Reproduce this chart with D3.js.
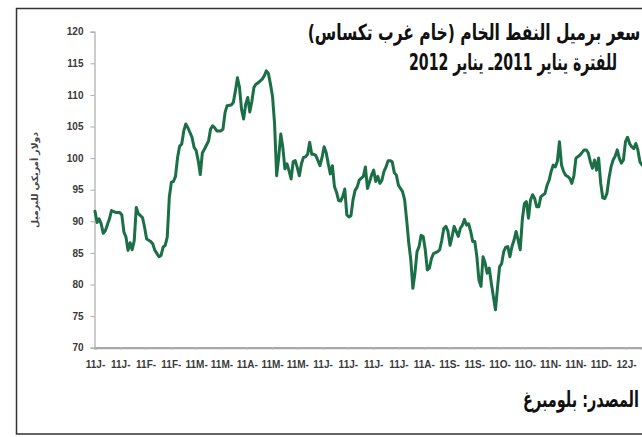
<!DOCTYPE html>
<html>
<head>
<meta charset="utf-8">
<script src="https://cdn.jsdelivr.net/npm/d3@7"></script>
<style>
body { margin: 0; background: #fff; }
svg { display: block; }
</style>
</head>
<body>
<div id="corpo"></div>
<script>
// trading session number (from 3 Jan 2011) and WTI close
var days = [0,1,2,3,4,5,7,8,10,12,13,14,15,16,17,18,19,20,21,22,23,24,25,27,28,29,31,32,33,34,35,36,37,38,39,40,
  41,42,43,44,45,47,48,49,50,51,52,53,55,56,57,58,59,61,62,63,64,66,67,68,69,70,71,72,73,74,75,76,77,78,79,81,82,83,84,85,
  86,87,88,89,90,91,92,93,94,95,96,97,98,99,100,101,102,103,104,105,106,107,108,109,110,111,112,113,114,115,116,117,118,119,
  120,121,122,123,124,125,126,127,128,130,131,132,134,135,136,137,138,139,140,141,142,143,144,145,146,147,149,150,151,152,
  153,154,155,156,157,158,159,160,161,162,163,164,166,167,168,169,170,171,172,173,174,175,176,177,178,179,180,181,182,183,
  184,185,186,187,188,189,190,191,192,193,194,195,196,197,198,199,200,201,202,203,204,205,206,207,208,209,210,211,212,213,
  214,215,216,218,219,220,221,222,223,224,225,226,227,228,229,230,231,232,233,235,236,237,238,239,240,241,242,243,244,245,
  246,247,248,249,250,251,252,253,254,255,256,257,258,259,260,261,262,263,264,265];
var prices = [91.6,89.8,90.4,89.6,88.1,88.5,90.4,91.7,91.4,91.4,91.0,88.3,87.5,85.4,86.6,85.5,86.9,92.2,91.2,90.9,90.6,89.1,87.2,86.8,86.4,85.4,84.4,84.6,85.9,86.2,87.5,93.8,96.2,96.3,97.1,100.1,
  101.9,102.2,104.3,105.4,104.8,103.3,101.7,101.2,99.6,97.4,100.8,101.4,102.7,104.6,105.1,104.8,104.3,104.3,104.6,107.2,108.3,108.4,108.8,110.6,112.7,111.2,107.7,106.2,108.5,109.6,107.3,109.0,111.2,111.7,111.9,112.5,113.0,113.8,113.4,111.7,
  109.8,105.4,97.2,100.1,103.8,101.7,98.3,99.1,98.0,96.7,99.4,99.6,98.5,97.2,99.1,100.1,100.2,100.6,102.5,100.6,100.6,100.4,99.6,98.8,100.1,101.8,100.9,99.1,97.5,98.8,95.5,94.6,93.3,93.2,
  93.9,95.1,91.0,90.7,90.9,93.4,94.9,95.4,96.5,97.1,98.6,95.2,97.3,98.1,96.3,97.1,96.0,96.5,97.9,98.6,99.6,99.6,99.4,97.7,97.3,95.7,94.7,93.4,90.2,86.6,
  83.9,79.4,81.8,85.2,86.0,87.8,87.6,85.5,82.3,82.6,84.1,84.9,85.2,85.5,87.0,88.9,89.2,88.4,86.2,87.6,89.2,88.4,87.6,88.9,89.4,90.3,89.4,89.6,88.4,86.8,
  86.8,84.4,80.7,79.7,84.4,83.4,81.8,82.6,80.2,78.1,76.0,79.5,82.8,83.3,85.2,85.9,86.0,84.4,86.0,87.0,88.4,87.0,85.5,90.2,92.8,93.1,90.5,93.4,94.2,93.6,
  92.3,92.3,93.9,94.4,95.7,96.5,97.9,98.9,98.6,99.5,102.6,98.9,97.9,97.3,97.1,96.8,96.0,97.2,100.0,100.5,100.9,101.3,101.3,100.8,99.4,98.4,99.7,98.1,100.0,96.0,
  93.7,93.6,94.4,96.8,98.6,99.7,100.3,101.3,100.0,99.2,99.7,102.6,103.3,102.3,101.8,101.5,102.3,101.3,99.4,98.9];

var yTicks = [70, 75, 80, 85, 90, 95, 100, 105, 110, 115, 120];
var xLabels = ["11J-","11J-","11F-","11F-","11M-","11M-","11A-","11M-","11M-","11J-","11J-",
  "11J-","11J-","11A-","11S-","11S-","11O-","11O-","11N-","11N-","11D-","12J-"];
var labelStep = 12.25; // sessions between category labels

var title1 = "سعر برميل النفط الخام (خام غرب تكساس)";
var title2 = "للفترة يناير 2011ـ يناير 2012";
var yTitle = "دولار أمريكي للبرميل";
var source = "المصدر: بلومبرغ";

var width = 642, height = 437;
var lineColor = "#1a6f46";
var numFont = "'Liberation Sans Narrow', 'Liberation Sans', Arial, sans-serif";
var arabicFont = "'DejaVu Sans', 'Noto Sans', sans-serif";

var svg = d3.select("#corpo").append("svg")
    .attr("width", width)
    .attr("height", height);

// frame of the clipping (right side is cut)
svg.append("path")
    .attr("d", "M" + width + ",8.5H16.5V434H" + width)
    .attr("fill", "none")
    .attr("stroke", "#333")
    .attr("stroke-width", 1.5);

var x = d3.scaleLinear().domain([0, 265]).range([95, 642]);
var y = d3.scaleLinear().domain([70, 120]).range([347.7, 31.7]);

// y axis
var yAxis = svg.append("g")
    .attr("transform", "translate(94.5,0)")
    .call(d3.axisLeft(y).tickValues(yTicks).tickSize(4).tickPadding(7));
yAxis.select(".domain").attr("stroke", "#aaa").attr("stroke-width", 1.2);
yAxis.selectAll(".tick line").attr("stroke", "#aaa");
yAxis.selectAll("text")
    .style("font-family", numFont)
    .style("font-weight", "bold")
    .style("font-size", "10px")
    .style("fill", "#3a3a3a");

// x axis
var labelDays = xLabels.map(function(d, i) { return i * labelStep; });
var xAxis = svg.append("g")
    .attr("transform", "translate(0," + y(70) + ")")
    .call(d3.axisBottom(x).tickValues(labelDays).tickSize(2).tickPadding(11)
        .tickFormat(function(d, i) { return xLabels[i]; }));
xAxis.select(".domain").attr("stroke", "#a8a8a8").attr("stroke-width", 2.2);
xAxis.selectAll(".tick line").attr("stroke", "#bbb");
xAxis.selectAll("text")
    .style("font-family", numFont)
    .style("font-weight", "bold")
    .style("font-size", "10px")
    .style("fill", "#3a3a3a");

// price line
var series = days.map(function(d, i) { return {day: d, valor: prices[i]}; });
var line = d3.line()
    .x(function(d) { return x(d.day); })
    .y(function(d) { return y(d.valor); });

svg.append("path")
    .datum(series)
    .attr("d", line)
    .attr("fill", "none")
    .attr("stroke", lineColor)
    .attr("stroke-width", 3)
    .attr("stroke-linejoin", "round")
    .attr("stroke-linecap", "round");

// arabic texts: squeezed horizontally to the condensed newspaper face
function arabicText(str, cx, cy, len, size, color, rot) {
    var g = svg.append("g");
    var t = g.append("text")
        .attr("direction", "rtl")
        .attr("text-anchor", "middle")
        .style("font-family", arabicFont)
        .style("font-weight", "bold")
        .style("font-size", size + "px")
        .style("fill", color)
        .text(str);
    var k = len / t.node().getComputedTextLength();
    g.attr("transform", "translate(" + cx + "," + cy + ")" + (rot ? " rotate(" + rot + ")" : "") + " scale(" + k + ",1)");
    return g;
}

arabicText(title1, 474, 40, 333, 22, "#111");
arabicText(title2, 513, 70, 208, 23, "#111");
arabicText(source, 581, 407, 116, 22, "#111");
arabicText(yTitle, 38, 180, 96, 9, "#444", -90);
</script>
</body>
</html>
